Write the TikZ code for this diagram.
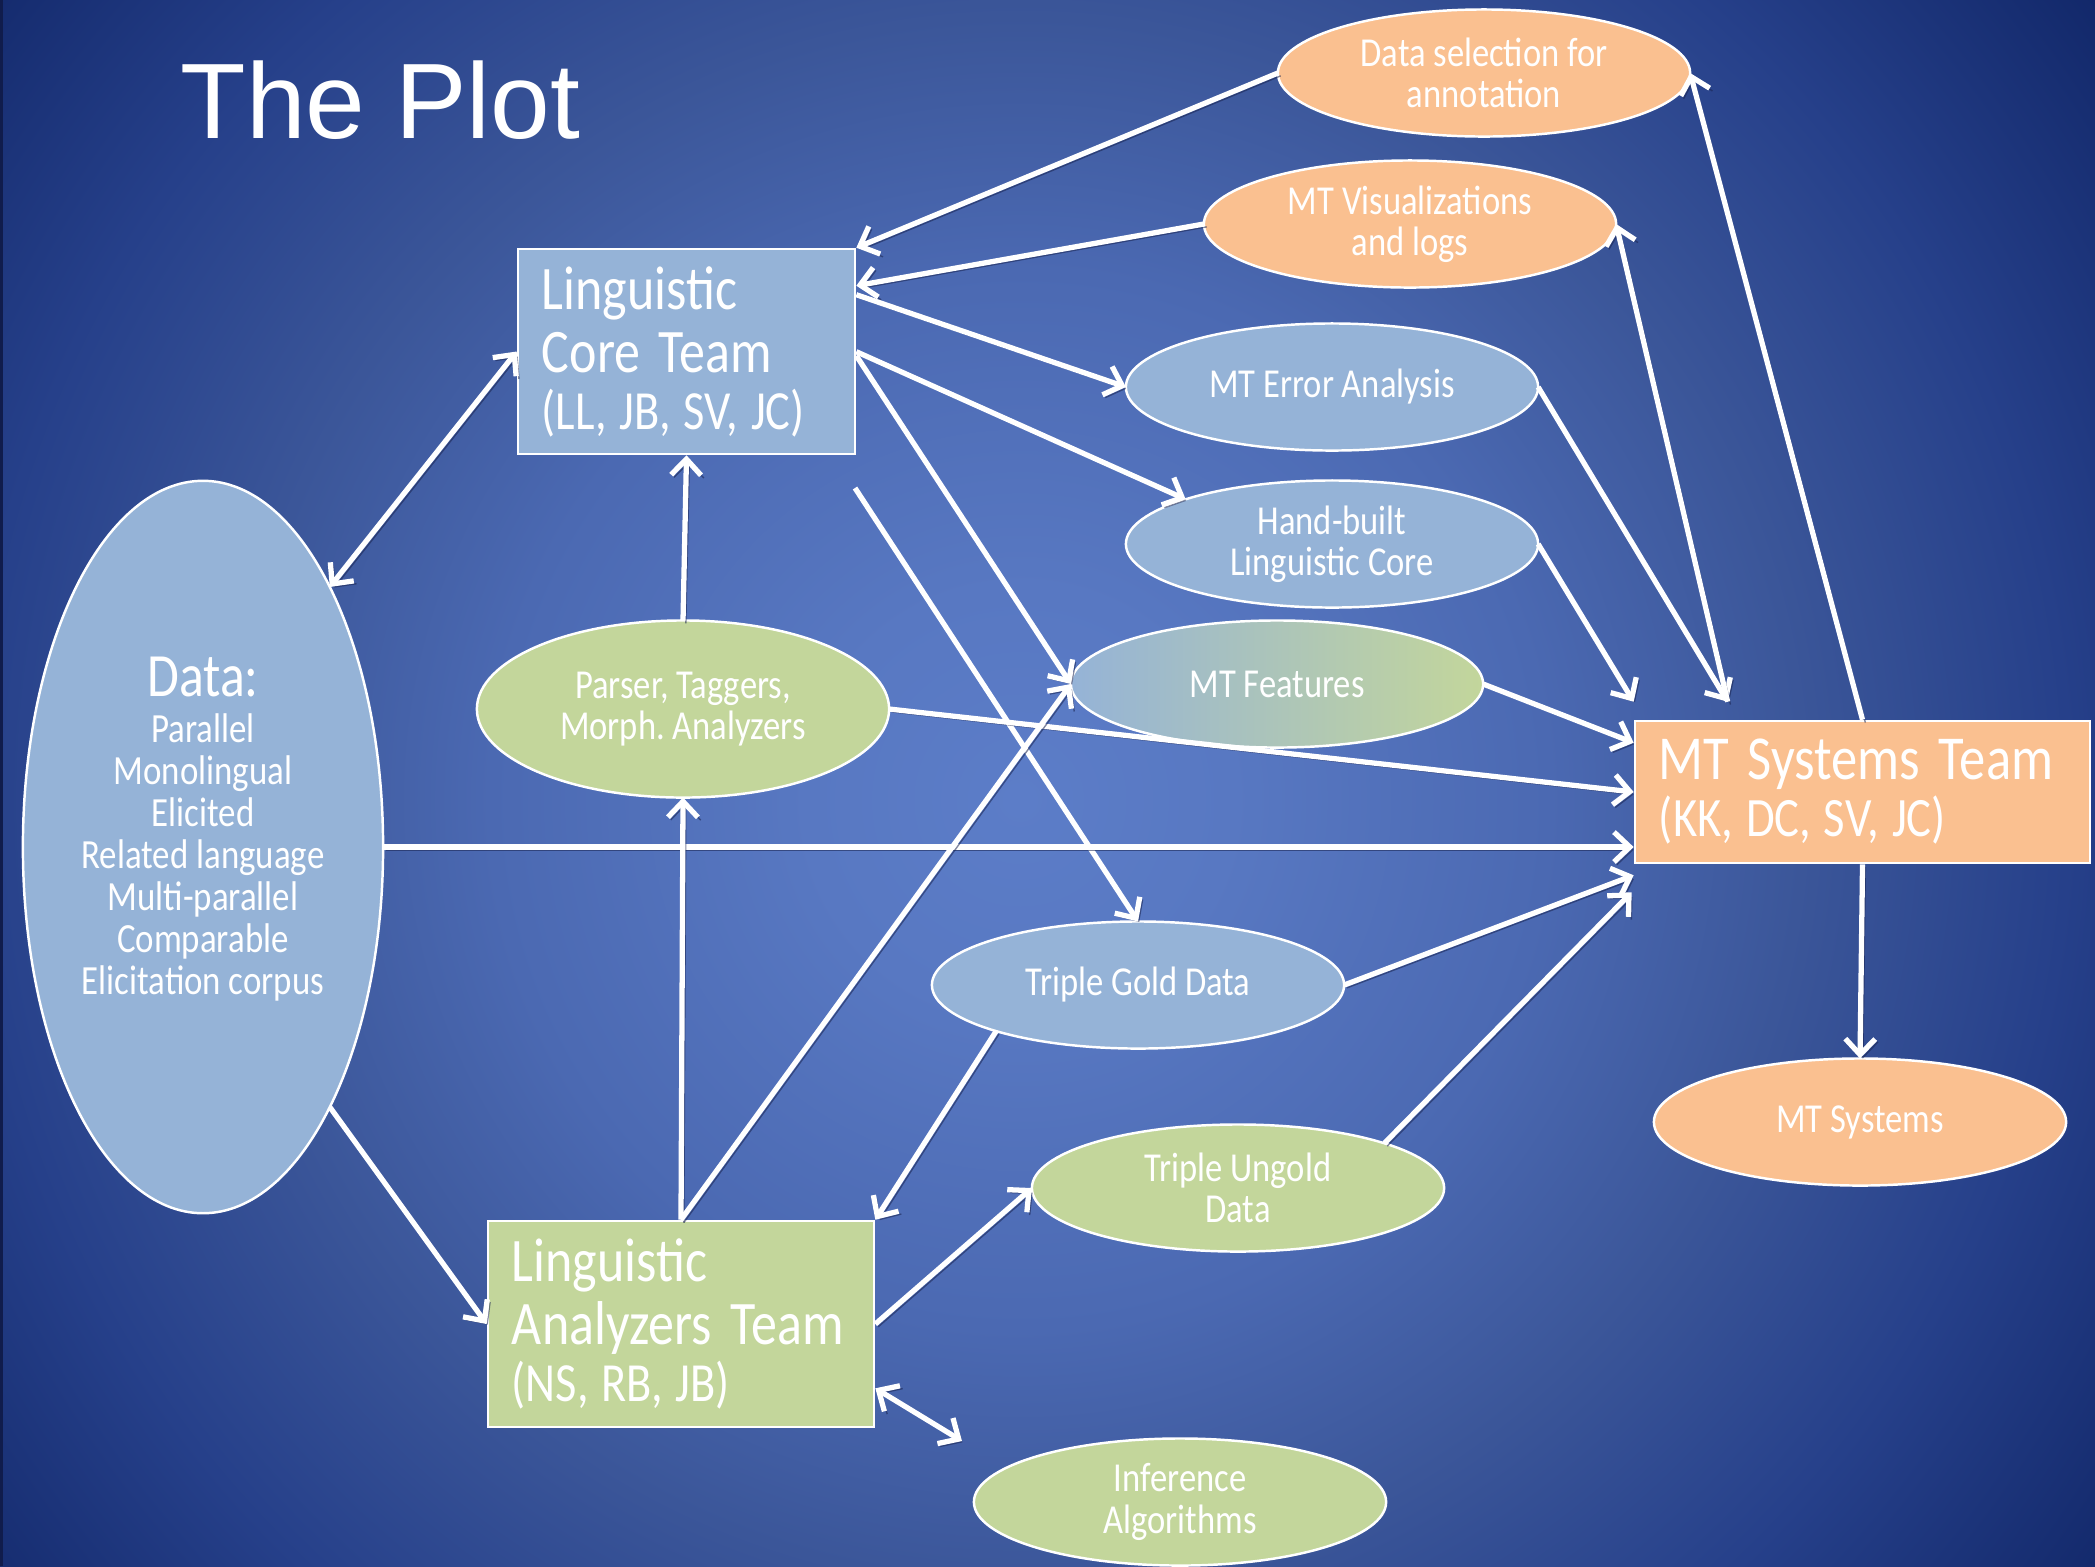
\documentclass[tikz,border=0pt]{standalone}
\usepackage{fontspec}
\setmainfont{Carlito}[FakeStretch=0.84]
\newfontfamily\titlefont{Liberation Sans}
\usetikzlibrary{shapes.geometric,arrows.meta,calc}
\frenchspacing
\newcommand\csp{\hspace{0.23em}}
\definecolor{boxblue}{HTML}{95B3D7}
\definecolor{boxgreen}{HTML}{C3D69B}
\definecolor{boxorange}{HTML}{FAC090}
\definecolor{bgA}{HTML}{5C7DC8}
\definecolor{bgB}{HTML}{5878C2}
\definecolor{bgM}{HTML}{4B69B2}
\definecolor{bgT}{HTML}{3B5699}
\definecolor{bgE}{HTML}{26408A}
\definecolor{bgO}{HTML}{12286A}
\definecolor{edgedark}{HTML}{101C4C}
\definecolor{shadowc}{HTML}{1A2450}
\pgfdeclareradialshading{bgshade}{\pgfpoint{0bp}{0bp}}{color(0bp)=(bgA); color(60bp)=(bgB); color(150bp)=(bgM); color(222bp)=(bgT); color(297bp)=(bgE); color(380bp)=(bgO)}
\tikzset{
  team/.style={rectangle, draw=white, line width=0.7pt, inner xsep=0.24cm, inner ysep=0pt,
    align=left, text=white, anchor=center, font=\fontsize{15.7}{16.2}\selectfont},
  ell/.style={ellipse, draw=white, line width=0.7pt, minimum width=4.12cm, minimum height=1.27cm,
    inner sep=0pt, outer sep=0pt, align=center, text=white, font=\fontsize{11.7}{11.8}\selectfont},
  shad/.style={preaction={draw=shadowc, draw opacity=0.55, transform canvas={shift={(0.8pt,-0.8pt)}}}},
  arr/.style={draw=white, line width=1.5pt, ->, shad},
  dbl/.style={draw=white, line width=1.5pt, <->, shad},
}
\begin{document}
\begin{tikzpicture}[x=0.01cm,y=-0.01cm,>={Straight Barb[length=4.5pt,width=8.5pt]}]
\useasboundingbox (0,0) rectangle (2095,1566);
\node[inner sep=0pt, outer sep=0pt] (bg) at (1020,800) {\pgfuseshading{bgshade}};
\fill[edgedark] (0,0) rectangle (3,1566);

\node[anchor=base west, inner sep=0pt, text=white, font=\titlefont\fontsize{30.5}{36}\selectfont] (title) at (180,138) {The Plot};

% team boxes
\node[team, fill=boxblue, minimum width=3.37cm, minimum height=2.05cm, text width=2.89cm] (lct) at (686.5,351.5)
  {\fontsize{17.6}{17.9}\selectfont Linguistic\\\mbox{Core Team}\\\fontsize{15.7}{16.2}\selectfont \mbox{(LL,\csp JB,\csp SV,\csp JC)}};
\node[team, fill=boxgreen, minimum width=3.86cm, minimum height=2.06cm, text width=3.38cm] (lat) at (681,1324)
  {\fontsize{17.6}{18.1}\selectfont Linguistic\\\mbox{Analyzers Team}\\\fontsize{15.7}{16.0}\selectfont \mbox{(NS,\csp RB,\csp JB)}};
\node[team, fill=boxorange, minimum width=4.55cm, minimum height=1.42cm, text width=4.07cm] (mtst) at (1862.5,792)
  {\fontsize{17.8}{16.2}\selectfont \mbox{MT Systems Team}\\\fontsize{15.8}{16.2}\selectfont \mbox{(KK,\csp DC,\csp SV,\csp JC)}};

% data ellipse
\node[ell, fill=boxblue, minimum width=3.6cm, minimum height=7.32cm] (data) at (203,847) {};
\node[align=center, text=white, inner sep=0pt, font=\fontsize{11.8}{11.95}\selectfont] (datatxt) at ($(data.center)+(0,-18)$)
  {{\fontsize{17.5}{18}\selectfont Data:}\\[1pt]Parallel\\Monolingual\\Elicited\\Related language\\Multi-parallel\\Comparable\\Elicitation corpus};

% other ellipses
\node[ell, fill=boxgreen, minimum height=1.77cm] (parser) at (683,709) {Parser, Taggers,\\Morph. Analyzers};
\node[ell, fill=boxorange] (dsel) at (1484,73) {Data selection for\\annotation};
\node[ell, fill=boxorange] (mtvis) at (1410,224) {MT Visualizations\\and logs};
\node[ell, fill=boxblue] (mterr) at (1332,387) {MT Error Analysis};
\node[ell, fill=boxblue] (hb) at (1332,544) {Hand-built\\Linguistic Core};
\node[ell, shading=axis, left color=boxblue, right color=boxgreen, shading angle=90] (feat) at (1277,684) {MT Features};
\node[ell, fill=boxblue] (tgold) at (1138,985) {Triple Gold Data};
\node[ell, fill=boxgreen] (tungold) at (1238,1188) {Triple Ungold\\Data};
\node[ell, fill=boxgreen] (infer) at (1180,1502) {Inference\\Algorithms};
\node[ell, fill=boxorange] (mtsys) at (1860,1122) {MT Systems};

% free coordinates
\coordinate (free1) at (855,488);
\coordinate (infarr) at (962,1441);
\coordinate (mtsjoin) at ($(mtst.north west)+(94,-18)$);

% connectors
\draw[arr] (dsel.west) -- (lct.north east);
\draw[arr] (mtvis.west) -- ($(lct.north east)+(0,38)$);
\draw[arr] ($(lct.north east)+(0,47)$) -- (mterr.west);
\draw[arr] ($(lct.north east)+(0,104)$) -- (hb.163);
\draw[arr] ($(lct.north east)+(0,108)$) -- (feat.west);
\draw[arr] (free1) -- (tgold.north);
\draw[arr] (parser.north) -- (lct.south);
\draw[dbl] (lct.west) -- (data.64);
\draw[arr] (parser.east) -- (mtst.west);
\draw[arr] (data.east) -- (data.east -| mtst.west);
\draw[arr] (data.-64) -- (lat.west);
\draw[arr] (lat.north) -- (parser.south);
\draw[arr] (lat.north) -- (feat.west);
\draw[arr] (tgold.198) -- (lat.north east);
\draw[arr] (lat.east) -- (tungold.west);
\draw[dbl] ($(lat.south east)+(0,-40)$) -- (infarr);
\draw[arr] (mterr.east) -- (mtsjoin);
\draw[arr] (mtsjoin) -- (mtvis.east);
\draw[arr] (hb.east) -- ($(mtst.north west)+(0,-18)$);
\draw[arr] (feat.east) -- ($(mtst.north west)+(0,23)$);
\draw[arr] (tgold.east) -- ($(mtst.south west)+(0,11)$);
\draw[arr] (tungold.17) -- ($(mtst.south west)+(-2,28)$);
\draw[arr] (mtst.north) -- (dsel.east);
\draw[arr] (mtst.south) -- (mtsys.north);
\end{tikzpicture}
\end{document}
